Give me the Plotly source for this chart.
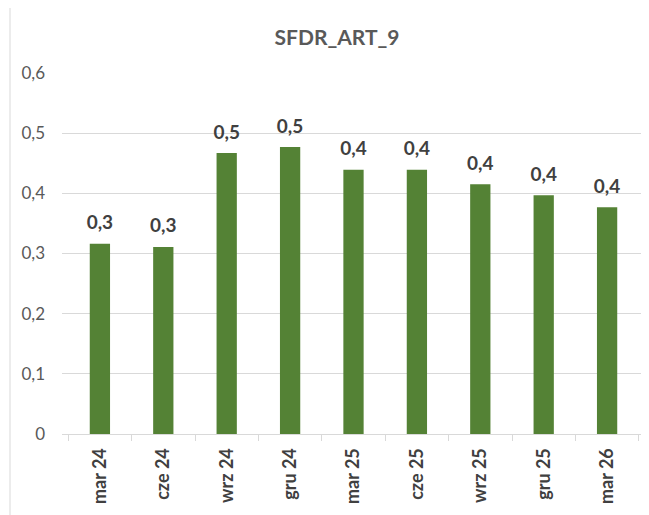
import plotly.graph_objects as go

categories = ["mar 24", "cze 24", "wrz 24", "gru 24", "mar 25", "cze 25", "wrz 25", "gru 25", "mar 26"]
values = [0.316, 0.311, 0.467, 0.477, 0.439, 0.439, 0.415, 0.397, 0.377]
y_ticks = [0, 0.1, 0.2, 0.3, 0.4, 0.5, 0.6]
y_tick_labels = ["0", "0,1", "0,2", "0,3", "0,4", "0,5", "0,6"]
value_labels = [f"{v:.1f}".replace(".", ",") for v in values]

FONT = "Lato, 'Open Sans', sans-serif"

W, H = 641, 507  # page body has an 8px margin

fig = go.Figure()
fig.add_trace(go.Bar(
    x=categories, y=values,
    marker=dict(color="#548235", line=dict(width=0)),
    hoverinfo="skip",
))
fig.add_trace(go.Scatter(
    x=categories, y=values, mode="text+markers",
    marker=dict(size=14, opacity=0),
    text=value_labels, textposition="top center",
    textfont=dict(family=FONT, size=19, color="#404040", weight="bold"),
    cliponaxis=False, hoverinfo="skip",
))

fig.update_layout(
    width=W, height=H,
    margin=dict(l=54, r=4, t=65, b=81),
    paper_bgcolor="white", plot_bgcolor="white",
    title=dict(text="<b>SFDR_ART_9</b>", x=(337 - 8) / W, xanchor="center", y=1 - 30 / H, yanchor="middle",
               font=dict(family=FONT, size=21, color="#595959")),
    bargap=0.68,
    showlegend=False,
    xaxis=dict(
        tickangle=-90,
        tickfont=dict(family=FONT, size=18, color="#404040", weight="bold"),
        showline=True, linecolor="#d9d9d9", linewidth=1,
        ticks="outside", ticklen=6, tickcolor="#d9d9d9", tickson="boundaries",
        showgrid=False, ticklabelstandoff=6,
    ),
    yaxis=dict(
        range=[0, 0.6], tickvals=y_ticks, ticktext=y_tick_labels,
        tickfont=dict(family=FONT, size=17, color="#595959"),
        showgrid=True, gridcolor="#d9d9d9", gridwidth=1,
        zeroline=False, ticks="", ticklabelstandoff=16,
    ),
    shapes=[dict(type="rect", xref="paper", yref="paper",
                 x0=(2 - 54) / 583, x1=1.2, y0=-0.5, y1=1 + (65 + 1) / 361,
                 line=dict(color="#d9d9d9", width=1), fillcolor="rgba(0,0,0,0)", layer="below")],
)

fig.write_html("out.html")
